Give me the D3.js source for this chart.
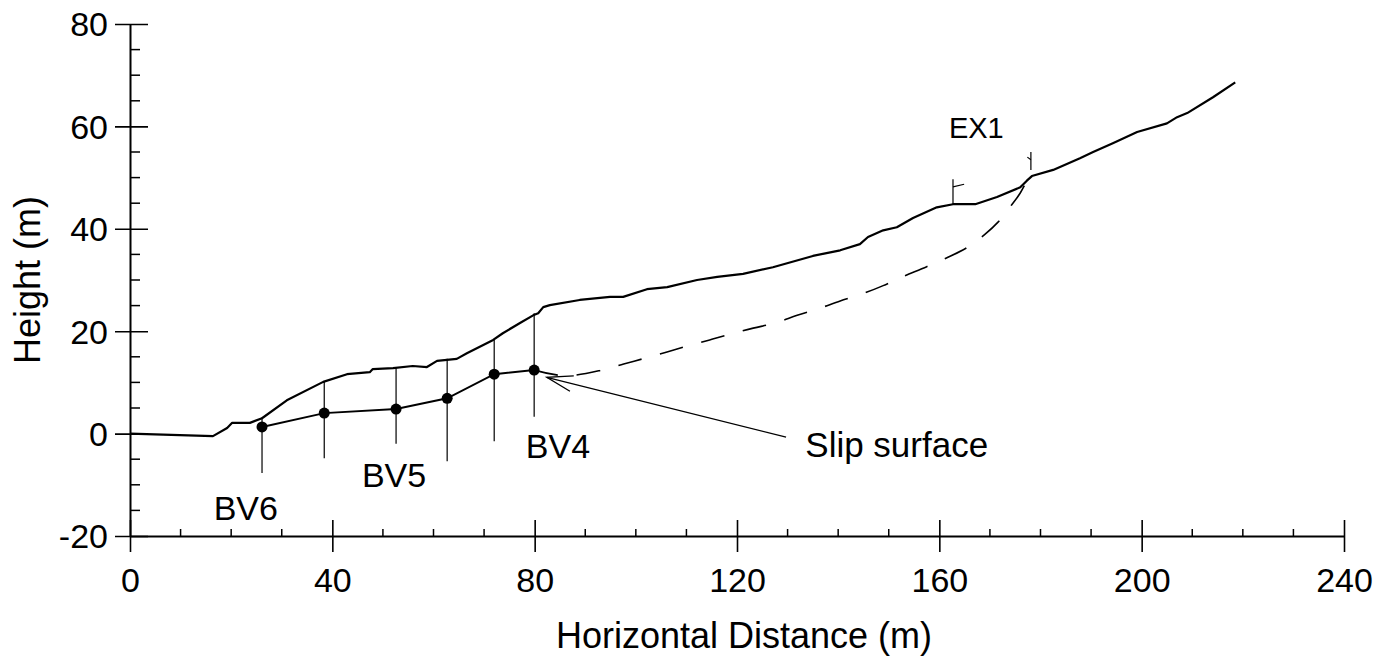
<!DOCTYPE html>
<html>
<head>
<meta charset="utf-8">
<script src="https://cdn.jsdelivr.net/npm/d3@7"></script>
<style>
  body { margin: 0; background: #fff; }
  svg { display: block; }
  text { font-family: "Liberation Sans", Arial, Helvetica, sans-serif; fill: #000; }
</style>
</head>
<body>
<svg width="1397" height="664"></svg>
<script>
// ground surface profile (m)
var groundX = [0, 16.4, 19.2, 20.2, 23.7, 26.1, 31.0, 38.2, 42.9, 47.4, 48.0, 52.0, 55.9, 58.7, 60.7, 64.6, 66.6,
               71.8, 73.7, 77.1, 79.7, 80.7, 81.7, 83.0, 88.9, 94.9, 97.5, 102.2, 106.2, 112.1, 116.1, 121.2,
               127.1, 135.0, 140.4, 144.3, 145.9, 148.9, 151.6, 154.8, 159.5, 162.7, 167.1, 171.4, 176.0,
               177.3, 178.3, 182.5, 187.8, 190.4, 194.3, 199.1, 205.0, 207.0, 209.0, 214.1, 218.5];
var groundY = [0, -0.5, 1.1, 2.1, 2.1, 3.0, 6.5, 10.1, 11.6, 12.0, 12.6, 12.8, 13.2, 13.0, 14.2, 14.6, 15.7,
               18.3, 19.6, 21.6, 23.1, 23.5, 24.7, 25.1, 26.1, 26.7, 26.7, 28.2, 28.6, 30.0, 30.6, 31.2,
               32.5, 34.7, 35.8, 37.0, 38.4, 39.7, 40.3, 42.1, 44.2, 44.8, 44.8, 46.2, 48.1,
               49.4, 50.3, 51.5, 53.8, 55.0, 56.7, 58.9, 60.6, 61.8, 62.6, 65.7, 68.6];

// boreholes: slip depth points and borehole extent
var holeX      = [26.1, 38.4, 52.6, 62.7, 72.0, 79.9];
var holeSlip   = [1.3, 4.0, 4.8, 6.9, 11.6, 12.4];
var holeTop    = [3.2, 10.1, 12.8, 14.6, 18.4, 23.5];
var holeBottom = [-7.7, -4.8, -2.0, -5.4, -1.5, 3.3];

// inferred slip surface (dashed)
var slipX = [79.9, 86.0, 93.3, 97.6, 101.7, 106.0, 110.1, 114.6, 119.0, 123.2, 127.6, 131.9, 136.1, 140.4,
             144.5, 148.9, 152.2, 157.5, 161.4, 165.6, 169.0, 171.6, 174.0, 176.0, 177.3];
var slipY = [12.4, 11.3, 12.4, 13.6, 14.7, 15.9, 17.1, 18.3, 19.5, 20.6, 21.6, 23.1, 24.4, 25.9,
             27.2, 28.9, 30.4, 32.6, 34.3, 36.4, 38.9, 41.3, 44.3, 47.0, 49.4];

// EX1 extensometer marks
var exX     = [162.7, 178.1];
var exLow   = [44.8, 51.5];
var exHigh  = [49.7, 55.0];
var exFlagY = [48.2, 53.5];
var exFlagX = [164.9, 177.4];

// labels
var labelText = ["BV6", "BV5", "BV4"];
var labelX    = [22.9, 52.2, 84.6];
var labelY    = [-16.9, -10.4, -4.8];

var arrowTip  = [82.4, 11.0];
var arrowTail = [129.7, -0.7];

var xMajor = [0, 40, 80, 120, 160, 200, 240];
var yMajor = [-20, 0, 20, 40, 60, 80];

var svg = d3.select("svg");

var x = d3.scaleLinear().domain([0, 240]).range([130, 1344]);
var y = d3.scaleLinear().domain([-20, 80]).range([536, 24]);

var fontSize = 34;
var plain = function(d) { return String(d); };

// x axis
var gx = svg.append("g")
    .attr("transform", "translate(0," + y(-20) + ")")
    .call(d3.axisBottom(x).tickValues(xMajor).tickFormat(plain).tickSize(16).tickSizeOuter(0));
gx.select(".domain").attr("stroke-width", 2);
gx.selectAll(".tick line").attr("y1", -16).attr("stroke-width", 1.6);
gx.selectAll(".tick text")
    .attr("y", 56).attr("dy", 0)
    .style("font-size", fontSize + "px")
    .style("font-family", "Liberation Sans, Arial, sans-serif");

svg.append("g").selectAll("line")
    .data(x.ticks(24).filter(function(d) { return d % 40 !== 0; }))
  .enter().append("line")
    .attr("x1", function(d) { return x(d); })
    .attr("x2", function(d) { return x(d); })
    .attr("y1", y(-20))
    .attr("y2", y(-20) - 7)
    .attr("stroke", "#000")
    .attr("stroke-width", 1.5);

// y axis
var gy = svg.append("g")
    .attr("transform", "translate(" + x(0) + ",0)")
    .call(d3.axisLeft(y).tickValues(yMajor).tickFormat(plain).tickSize(15).tickSizeOuter(0));
gy.select(".domain").attr("stroke-width", 2);
gy.selectAll(".tick line").attr("x1", 18).attr("stroke-width", 1.6);
gy.selectAll(".tick text")
    .attr("x", -22)
    .attr("dy", "0.35em")
    .style("font-size", fontSize + "px")
    .style("font-family", "Liberation Sans, Arial, sans-serif");

svg.append("g").selectAll("line")
    .data(y.ticks(20).filter(function(d) { return d % 20 !== 0; }))
  .enter().append("line")
    .attr("x1", x(0))
    .attr("x2", x(0) + 10)
    .attr("y1", function(d) { return y(d); })
    .attr("y2", function(d) { return y(d); })
    .attr("stroke", "#000")
    .attr("stroke-width", 1.5);

// axis titles
svg.append("text")
    .attr("x", 744)
    .attr("y", 648)
    .attr("text-anchor", "middle")
    .style("font-size", "36px")
    .text("Horizontal Distance (m)");

svg.append("text")
    .attr("transform", "translate(40," + y(30) + ") rotate(-90)")
    .attr("text-anchor", "middle")
    .style("font-size", "36px")
    .text("Height (m)");

var line = d3.line()
    .x(function(d) { return x(d[0]); })
    .y(function(d) { return y(d[1]); });

// ground surface
svg.append("path")
    .datum(d3.zip(groundX, groundY))
    .attr("d", line)
    .attr("fill", "none")
    .attr("stroke", "#000")
    .attr("stroke-width", 2.2)
    .attr("stroke-linejoin", "round");

// boreholes
svg.append("g").selectAll("line")
    .data(d3.range(holeX.length))
  .enter().append("line")
    .attr("x1", function(i) { return x(holeX[i]); })
    .attr("x2", function(i) { return x(holeX[i]); })
    .attr("y1", function(i) { return y(holeTop[i]); })
    .attr("y2", function(i) { return y(holeBottom[i]); })
    .attr("stroke", "#000")
    .attr("stroke-width", 1.2);

svg.append("path")
    .datum(d3.zip(holeX, holeSlip))
    .attr("d", line)
    .attr("fill", "none")
    .attr("stroke", "#000")
    .attr("stroke-width", 2);

svg.append("g").selectAll("circle")
    .data(d3.zip(holeX, holeSlip))
  .enter().append("circle")
    .attr("cx", function(d) { return x(d[0]); })
    .attr("cy", function(d) { return y(d[1]); })
    .attr("r", 5.5)
    .attr("fill", "#000");

// dashed slip surface
svg.append("path")
    .datum(d3.zip(slipX, slipY))
    .attr("d", line.curve(d3.curveCatmullRom))
    .attr("fill", "none")
    .attr("stroke", "#000")
    .attr("stroke-width", 1.6)
    .attr("stroke-dasharray", "24,19");
line.curve(d3.curveLinear);

// EX1 marks
var ex = svg.append("g").attr("stroke", "#000").attr("stroke-width", 1.2);
d3.range(exX.length).forEach(function(i) {
  ex.append("line")
      .attr("x1", x(exX[i])).attr("x2", x(exX[i]))
      .attr("y1", y(exLow[i])).attr("y2", y(exHigh[i]));
  ex.append("line")
      .attr("x1", x(exX[i])).attr("x2", x(exFlagX[i]))
      .attr("y1", y(exFlagY[i])).attr("y2", y(exFlagY[i] + 0.5));
});

// arrow to slip surface
var tx = x(arrowTip[0]), ty = y(arrowTip[1]),
    ax = x(arrowTail[0]), ay = y(arrowTail[1]),
    ang = Math.atan2(ay - ty, ax - tx),
    barb = 27, spread = 17 * Math.PI / 180;

svg.append("line")
    .attr("x1", tx).attr("y1", ty)
    .attr("x2", ax).attr("y2", ay)
    .attr("stroke", "#000")
    .attr("stroke-width", 1.3);

svg.append("path")
    .attr("d", "M" + (tx + barb * Math.cos(ang - spread)) + "," + (ty + barb * Math.sin(ang - spread)) +
               "L" + tx + "," + ty +
               "L" + (tx + barb * Math.cos(ang + spread)) + "," + (ty + barb * Math.sin(ang + spread)))
    .attr("fill", "none")
    .attr("stroke", "#000")
    .attr("stroke-width", 1.3);

// text labels
svg.append("g").selectAll("text")
    .data(d3.range(labelText.length))
  .enter().append("text")
    .attr("x", function(i) { return x(labelX[i]); })
    .attr("y", function(i) { return y(labelY[i]); })
    .attr("text-anchor", "middle")
    .style("font-size", fontSize + "px")
    .text(function(i) { return labelText[i]; });

svg.append("text")
    .attr("x", x(133.5))
    .attr("y", y(-4.6))
    .style("font-size", "35px")
    .text("Slip surface");

svg.append("text")
    .attr("x", x(161.9))
    .attr("y", y(57.7))
    .style("font-size", "29px")
    .text("EX1");
</script>
</body>
</html>
